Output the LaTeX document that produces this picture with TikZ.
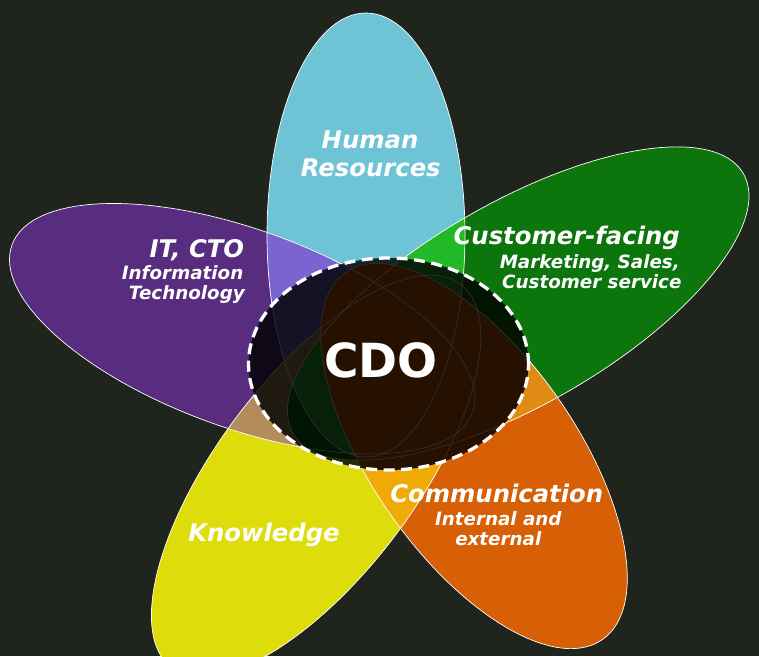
\documentclass[tikz,border=0pt]{standalone}
\usepackage{fontspec}
\setmainfont{DejaVu Sans}
\definecolor{bgc}{HTML}{1F241D}
\definecolor{cyanc}{HTML}{6EC3D4}
\definecolor{purplec}{HTML}{582D80}
\definecolor{greenc}{HTML}{0C760C}
\definecolor{yellowc}{HTML}{DEDC0A}
\definecolor{orangec}{HTML}{D75F05}
\definecolor{ovCP}{HTML}{7A64D2}
\definecolor{ovCG}{HTML}{22B928}
\definecolor{ovGO}{HTML}{E08C14}
\definecolor{ovOY}{HTML}{F0AA05}
\definecolor{ovYP}{HTML}{B28C5A}
\def\PC{(366,421) ellipse [x radius=99, y radius=222]}
\def\PP{(242.2,327.3) ellipse [x radius=245, y radius=99, rotate=-20]}
\def\PG{(518.2,352.4) ellipse [x radius=260, y radius=101, rotate=30]}
\def\PY{(316.1,180) ellipse [x radius=240, y radius=99, rotate=53]}
\def\PO{(474,200) ellipse [x radius=224, y radius=102, rotate=-55]}
\def\PCirc{(388.5,292) ellipse [x radius=140, y radius=106]}
\begin{document}
\begin{tikzpicture}[x=1pt,y=1pt,
  outline/.style={draw=white, line width=0.7pt},
  head/.style={text=white, font=\fontsize{24.3}{28}\selectfont\bfseries\itshape, inner sep=0pt},
  sub/.style={text=white, font=\fontsize{18.3}{21}\selectfont\bfseries\itshape, inner sep=0pt},
  big/.style={text=white, font=\fontsize{47}{50}\selectfont\bfseries, inner sep=0pt},
  hub/.style={draw=white, line width=3.3pt, dash pattern=on 11pt off 6.5pt, fill=black, fill opacity=0.82}
]
\useasboundingbox (0,0) rectangle (759,656);
\fill[bgc] (0,0) rectangle (759,656);
% petals
\fill[cyanc] \PC;
\fill[purplec] \PP;
\fill[yellowc] \PY;
\begin{scope}\clip \PC; \fill[ovCP] \PP; \end{scope}
\begin{scope}\clip \PY; \fill[ovYP] \PP; \end{scope}
\fill[greenc] \PG;
\begin{scope}\clip \PC; \fill[ovCG] \PG; \end{scope}
\fill[orangec] \PO;
\begin{scope}\clip \PG; \fill[ovGO] \PO; \end{scope}
\begin{scope}\clip \PO; \fill[ovOY] \PY; \end{scope}
\begin{scope}\clip \PCirc; \fill[orangec] \PO; \end{scope}
% outlines
\draw[outline] \PC;
\draw[outline] \PP;
\draw[outline] \PG;
\draw[outline] \PY;
\draw[outline] \PO;
% centre
\path[hub] \PCirc;
\node[big, anchor=base] (cdo) at (381,278.7) {CDO};
% labels
\node[head, anchor=base] (hr1) at (370,507.7) {Human};
\node[head, anchor=base] (hr2) at (370.8,479.3) {Resources};
\node[head, anchor=base east] (it1) at (244.3,398.7) {IT, CTO};
\node[sub, anchor=base east] (it2) at (243.5,376.7) {Information};
\node[sub, anchor=base east] (it3) at (245,356) {Technology};
\node[head, anchor=base east] (cf1) at (680,411) {Customer-facing};
\node[sub, anchor=base east] (cf2) at (680,387.7) {Marketing, Sales,};
\node[sub, anchor=base east] (cf3) at (681.7,367) {Customer service};
\node[head, anchor=base] (co1) at (496.7,153.3) {Communication};
\node[sub, anchor=base] (co2) at (498.3,131) {Internal and};
\node[sub, anchor=base] (co3) at (498.3,110.3) {external};
\node[head, anchor=base] (kn) at (264,114.3) {Knowledge};
\end{tikzpicture}
\end{document}
